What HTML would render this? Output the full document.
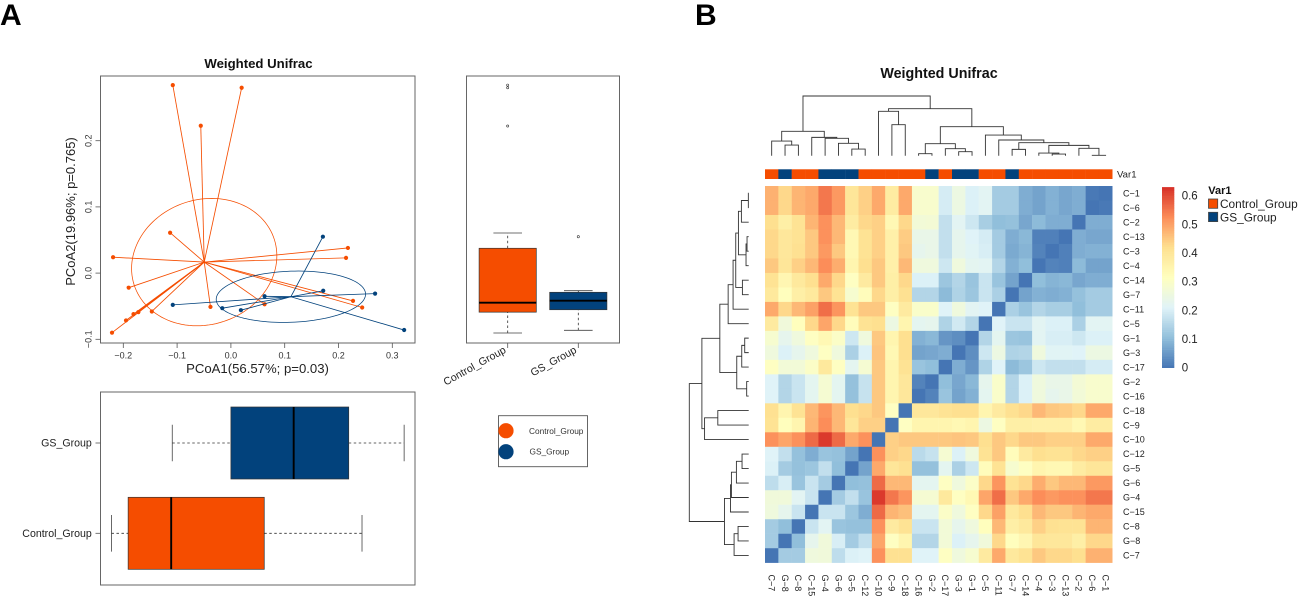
<!DOCTYPE html>
<html>
<head>
<meta charset="utf-8">
<title>Weighted Unifrac</title>
<style>
html,body{margin:0;padding:0;background:#fff;}
svg{display:block;font-family:"Liberation Sans",Arial,sans-serif;}
</style>
</head>
<body>
<svg id="figure" xmlns="http://www.w3.org/2000/svg" width="1299" height="597" viewBox="0 0 1299 597">
  <rect x="0" y="0" width="1299" height="597" fill="#fff"/>
  <text x="0" y="25" font-size="30" font-weight="bold" fill="#000">A</text>
  <text x="695" y="25" font-size="30" font-weight="bold" fill="#000">B</text>

  <text x="258.5" y="68" font-size="13.2" font-weight="bold" text-anchor="middle" fill="#111">Weighted Unifrac</text>
  <rect x="100.5" y="76" width="314.5" height="267" fill="none" stroke="#666" stroke-width="1"/>
  <text x="257.5" y="373" font-size="13.15" text-anchor="middle" fill="#222">PCoA1(56.57%; p=0.03)</text>
  <text transform="translate(75,211.5) rotate(-90)" font-size="13" text-anchor="middle" fill="#222">PCoA2(19.96%; p=0.765)</text>
  <g id="pcoa"></g>

  <rect x="466.5" y="76" width="153" height="267" fill="none" stroke="#666" stroke-width="1"/>
  <g id="boxV"></g>

  <rect x="100.5" y="392" width="314.5" height="193" fill="none" stroke="#666" stroke-width="1"/>
  <g id="boxH"></g>

  <g>
    <rect x="498.5" y="415.7" width="89" height="51" fill="#fff" stroke="#555" stroke-width="0.9"/>
    <circle cx="506" cy="430.7" r="7.6" fill="#F54D00"/>
    <circle cx="506" cy="451.7" r="7.6" fill="#02427C"/>
    <text x="529" y="433.8" font-size="8.3" fill="#333">Control_Group</text>
    <text x="529.5" y="454.5" font-size="8.3" fill="#333">GS_Group</text>
  </g>

  <text x="939" y="78" font-size="14.3" font-weight="bold" text-anchor="middle" fill="#111">Weighted Unifrac</text>
  <g id="topTree"></g>
  <g id="leftTree"></g>
  <g id="annot"></g>
  <text x="1117" y="177.5" font-size="9.6" font-weight="normal" fill="#222">Var1</text>
  <g id="heat"></g>
  <g id="rowLabels"></g>
  <g id="colLabels"></g>
  <g id="colorbar"></g>

  <g>
    <text x="1208.3" y="194" font-size="11" font-weight="bold" fill="#111">Var1</text>
    <rect x="1208.5" y="199" width="9.2" height="9.3" fill="#F54D00" stroke="#444" stroke-width="0.8"/>
    <rect x="1208.5" y="212.3" width="9.2" height="9.3" fill="#02427C" stroke="#444" stroke-width="0.8"/>
    <text x="1220" y="208" font-size="11.85" fill="#222">Control_Group</text>
    <text x="1220" y="221.3" font-size="11.85" fill="#222">GS_Group</text>
  </g>
</svg>
<script>
// ---- PCoA data ----
const controlPc1 = [-0.108,0.020,-0.056,-0.113,-0.219,0.2175,0.214,-0.190,0.227,0.244,0.0626,-0.038,-0.147,-0.172,-0.181,-0.195,-0.221];
const controlPc2 = [0.284,0.280,0.2226,0.061,0.024,0.038,0.023,-0.022,-0.042,-0.052,-0.047,-0.051,-0.058,-0.059,-0.062,-0.0715,-0.090];
const gsPc1 = [0.171,0.1716,0.268,0.322,0.0626,-0.108,-0.016,0.0186];
const gsPc2 = [0.055,-0.0267,-0.031,-0.086,-0.035,-0.048,-0.053,-0.056];
const controlCentroid = [-0.0496,0.0166];
const gsCentroid = [0.1115,-0.0357];
const controlEllipse = [0.135,0.0962,0.1];
const gsEllipse = [0.1388,0.0388,0.1];
const xTicks = [-0.2,-0.1,0,0.1,0.2,0.3];
const yTicks = [-0.1,0,0.1,0.2];
const tickLabelsX = ['−0.2','−0.1','0.0','0.1','0.2','0.3'];
const tickLabelsY = ['−0.1','0.0','0.1','0.2'];
// ---- Boxplot summaries: min, q1, median, q3, max ----
const groupNames = ['Control_Group','GS_Group'];
const controlPc1Box = [-0.222,-0.191,-0.111,0.062,0.2437];
const gsPc1Box = [-0.109,0,0.1167,0.219,0.322];
const controlPc2Box = [-0.0905,-0.059,-0.0447,0.0375,0.0606];
const gsPc2Box = [-0.0864,-0.0553,-0.0417,-0.029,-0.0266];
const controlPc2Outliers = [0.284,0.280,0.2222];
const gsPc2Outliers = [0.055];
// ---- Heatmap data ----
const rowNames = ['C-1','C-6','C-2','C-13','C-3','C-4','C-14','G-7','C-11','C-5','G-1','G-3','C-17','G-2','C-16','C-18','C-9','C-10','C-12','G-5','G-6','G-4','C-15','C-8','G-8','C-7'];
const colNames = ['C-7','G-8','C-8','C-15','G-4','G-6','G-5','C-12','C-10','C-9','C-18','C-16','G-2','C-17','G-3','G-1','C-5','C-11','G-7','C-14','C-4','C-3','C-13','C-2','C-6','C-1'];
const distanceMatrix = [
[.48,.43,.475,.49,.55,.51,.40,.44,.49,.38,.49,.29,.29,.195,.25,.205,.22,.13,.13,.08,.065,.085,.07,.08,.005,0],
[.48,.43,.475,.49,.55,.51,.40,.44,.49,.38,.49,.29,.29,.195,.25,.205,.22,.13,.13,.08,.065,.085,.07,.08,0,.005],
[.42,.37,.41,.475,.52,.47,.38,.43,.44,.34,.43,.27,.275,.17,.22,.185,.135,.105,.11,.07,.10,.08,.08,0,.08,.08],
[.43,.395,.41,.45,.52,.47,.34,.41,.44,.365,.445,.24,.24,.17,.23,.21,.195,.13,.08,.095,.015,.015,0,.08,.07,.07],
[.43,.395,.415,.45,.51,.45,.34,.41,.44,.365,.45,.23,.24,.17,.23,.215,.20,.13,.075,.09,.02,0,.015,.08,.085,.085],
[.45,.40,.44,.47,.525,.485,.35,.42,.45,.365,.47,.26,.26,.185,.26,.225,.22,.15,.085,.105,0,.02,.015,.10,.065,.065],
[.41,.345,.39,.42,.49,.43,.31,.385,.45,.37,.43,.205,.205,.12,.15,.115,.18,.115,.065,0,.105,.09,.095,.07,.08,.08],
[.39,.32,.37,.39,.45,.41,.285,.325,.43,.37,.415,.15,.15,.10,.145,.12,.18,.14,0,.065,.085,.08,.085,.11,.13,.13],
[.49,.43,.47,.50,.56,.515,.41,.45,.45,.31,.385,.295,.295,.21,.26,.22,.21,0,.14,.115,.15,.135,.135,.105,.13,.13],
[.385,.265,.32,.43,.495,.43,.325,.41,.42,.25,.35,.225,.23,.145,.19,.15,0,.21,.18,.18,.22,.205,.205,.14,.22,.22],
[.285,.23,.26,.31,.34,.30,.185,.26,.45,.35,.42,.085,.095,.045,.035,0,.15,.225,.12,.115,.22,.20,.20,.185,.205,.205],
[.26,.205,.23,.26,.31,.26,.14,.205,.455,.34,.42,.065,.07,.08,0,.035,.185,.25,.145,.15,.26,.215,.215,.21,.25,.25],
[.31,.27,.27,.30,.39,.31,.225,.28,.45,.35,.41,.115,.105,0,.08,.045,.145,.21,.10,.12,.185,.17,.17,.17,.195,.195],
[.21,.15,.18,.225,.28,.225,.11,.175,.45,.35,.395,.02,0,.105,.07,.095,.23,.295,.15,.205,.26,.24,.24,.275,.29,.29],
[.21,.15,.18,.225,.28,.225,.11,.175,.45,.35,.395,0,.02,.115,.065,.085,.225,.295,.15,.205,.26,.23,.24,.27,.29,.29],
[.415,.35,.41,.47,.515,.47,.42,.43,.45,.31,0,.395,.395,.41,.42,.42,.35,.385,.415,.43,.47,.45,.445,.43,.49,.49],
[.41,.32,.35,.475,.525,.47,.40,.44,.44,0,.31,.35,.35,.35,.34,.35,.25,.31,.37,.37,.365,.365,.365,.34,.38,.38],
[.52,.495,.52,.565,.62,.565,.49,.52,0,.44,.45,.45,.45,.45,.455,.45,.42,.45,.43,.45,.45,.44,.44,.44,.49,.49],
[.21,.17,.11,.08,.115,.11,.065,0,.52,.44,.43,.16,.175,.28,.205,.26,.41,.45,.325,.385,.42,.41,.41,.43,.44,.44],
[.205,.13,.11,.12,.17,.105,0,.065,.49,.40,.415,.11,.11,.225,.14,.185,.325,.41,.285,.31,.35,.34,.34,.38,.40,.40],
[.165,.20,.115,.18,.13,0,.105,.11,.565,.47,.47,.225,.225,.31,.26,.30,.43,.515,.41,.43,.485,.45,.47,.47,.51,.51],
[.265,.265,.22,.18,0,.13,.17,.115,.62,.55,.515,.28,.28,.39,.31,.34,.495,.56,.45,.49,.525,.51,.52,.52,.55,.55],
[.26,.23,.18,0,.18,.18,.12,.08,.565,.475,.46,.225,.225,.30,.26,.31,.43,.50,.39,.42,.47,.45,.45,.475,.49,.49],
[.13,.105,0,.18,.22,.115,.11,.11,.52,.385,.41,.18,.18,.27,.23,.26,.32,.47,.37,.39,.44,.415,.41,.41,.475,.475],
[.13,0,.105,.23,.265,.20,.13,.17,.495,.31,.35,.15,.15,.27,.205,.23,.265,.43,.32,.345,.40,.395,.395,.37,.43,.43],
[0,.13,.13,.26,.265,.165,.205,.21,.52,.415,.415,.21,.21,.31,.26,.285,.385,.49,.39,.41,.45,.43,.43,.42,.48,.48]
];
const legendTicks = [0,0.1,0.2,0.3,0.4,0.5,0.6];
const legendTickLabels = ['0','0.1','0.2','0.3','0.4','0.5','0.6'];
// Clustering: [left, right, height]. Negative = leaf (1-based column), positive = earlier merge (1-based).
const treeMerges = [
[-2,-3,.179],[-1,1,.246],[-7,-8,.112],[-6,3,.207],[-5,4,.291],[-4,5,.307],[2,6,.408],
[-10,-11,.52],[-9,8,.743],[-12,-13,.034],[-15,-16,.067],[-14,11,.117],[10,12,.201],
[-19,-20,.106],[-22,-23,.028],[-21,15,.045],[-25,-26,.006],[-24,17,.123],[16,18,.173],
[14,19,.218],[-18,20,.263],[-17,21,.346],[13,22,.486],[9,23,.788],[7,24,1]
];

const ORANGE = '#F54D00', BLUE = '#02427C';
const SVGNS = 'http://www.w3.org/2000/svg';
function add(parent, tag, attrs, text) {
  const n = document.createElementNS(SVGNS, tag);
  for (const k in attrs) n.setAttribute(k, attrs[k]);
  if (text !== undefined) n.textContent = text;
  parent.appendChild(n);
  return n;
}
const byId = id => document.getElementById(id);

// Axis functions
const xPc = v => 230.9 + 538 * v;
const yPc = v => 273.1 - 662 * v;
const colX = j => 765 + (1112.3 - 765) / colNames.length * j;
const rowY = i => 186 + (562.7 - 186) / rowNames.length * i;
const colW = (1112.3 - 765) / colNames.length;
const rowH = (562.7 - 186) / rowNames.length;
const COLOR_MAX = 0.63;
const colorStops = ['#4575B4','#91BFDB','#E0F3F8','#FFFFBF','#FEE090','#FC8D59','#D73027'];
function colorScale(v) {
  const t = Math.max(0, Math.min(1, v / COLOR_MAX)) * (colorStops.length - 1);
  const i = Math.min(colorStops.length - 2, Math.floor(t));
  const f = t - i;
  const a = colorStops[i], b = colorStops[i + 1];
  const ch = s => [1, 3, 5].map(p => parseInt(s.substr(p, 2), 16));
  const ca = ch(a), cb = ch(b);
  return 'rgb(' + ca.map((c, k) => Math.round(c + (cb[k] - c) * f)).join(',') + ')';
}

// ---- PCoA scatter ----
(function () {
  const g = byId('pcoa');
  xTicks.forEach((v, i) => {
    const tick = add(g, 'line', {x1: xPc(v), x2: xPc(v), y1: 343, y2: 348, stroke: '#555', 'stroke-width': 0.8});
    
    
    const label = add(g, 'text', {x: xPc(v), y: 358.5, 'font-size': 9, 'text-anchor': 'middle', fill: '#333'}, tickLabelsX[i]);
    
    
  });
  yTicks.forEach((v, i) => {
    const tick = add(g, 'line', {x1: 95.5, x2: 100.5, y1: yPc(v), y2: yPc(v), stroke: '#555', 'stroke-width': 0.8});
    
    
    const label = add(g, 'text', {transform: 'translate(91.5,' + yPc(v) + ') rotate(-90)', 'font-size': 9, 'text-anchor': 'middle', fill: '#333'}, tickLabelsY[i]);
    
    
  });
  function series(name, xs, ys, centroid, ell, color) {
    let d = '';
    for (let k = 0; k <= 120; k++) {
      const t = k / 120 * 2 * Math.PI;
      const ex = centroid[0] + ell[0] * Math.cos(t);
      const ey = centroid[1] + ell[1] * (ell[2] * Math.cos(t) + Math.sqrt(1 - ell[2] * ell[2]) * Math.sin(t));
      d += (k ? 'L' : 'M') + xPc(ex).toFixed(2) + ' ' + yPc(ey).toFixed(2);
    }
    const ellipse = add(g, 'path', {d: d + 'Z', fill: 'none', stroke: color, 'stroke-width': 0.75});
    
    
    xs.forEach((x, i) => {
      const spoke = add(g, 'line', {x1: xPc(centroid[0]), y1: yPc(centroid[1]), x2: xPc(x), y2: yPc(ys[i]), stroke: color, 'stroke-width': 0.85});
      
      
      const pt = add(g, 'circle', {cx: xPc(x), cy: yPc(ys[i]), r: 2.1, fill: color});
      
      
    });
  }
  series('control', controlPc1, controlPc2, controlCentroid, controlEllipse, ORANGE);
  series('gs', gsPc1, gsPc2, gsCentroid, gsEllipse, BLUE);
})();

// ---- Vertical boxplot (PCoA2) ----
(function () {
  const g = byId('boxV');
  const centers = [507.7, 578.3];
  const halfBox = 28.6, halfCap = 14.3;
  const stats = [controlPc2Box, gsPc2Box];
  const outliers = [controlPc2Outliers, gsPc2Outliers];
  const colors = [ORANGE, BLUE];
  stats.forEach((s, i) => {
    const c = centers[i];
    const wh = add(g, 'path', {d: 'M' + c + ' ' + yPc(s[0]) + 'V' + yPc(s[1]) + 'M' + c + ' ' + yPc(s[3]) + 'V' + yPc(s[4]), stroke: '#333', 'stroke-width': 0.8, 'stroke-dasharray': '2.5 2.5', fill: 'none'});
    
    
    const caps = add(g, 'path', {d: 'M' + (c - halfCap) + ' ' + yPc(s[0]) + 'H' + (c + halfCap) + 'M' + (c - halfCap) + ' ' + yPc(s[4]) + 'H' + (c + halfCap), stroke: '#444', 'stroke-width': 0.8, fill: 'none'});
    
    
    const box = add(g, 'rect', {x: c - halfBox, y: yPc(s[3]), width: 2 * halfBox, height: yPc(s[1]) - yPc(s[3]), fill: colors[i], stroke: '#333', 'stroke-width': 0.7});
    
    
    const med = add(g, 'line', {x1: c - halfBox, x2: c + halfBox, y1: yPc(s[2]), y2: yPc(s[2]), stroke: '#000', 'stroke-width': 1.9});
    
    
    outliers[i].forEach(o => {
      const pt = add(g, 'circle', {cx: c, cy: yPc(o), r: 1.1, fill: 'none', stroke: '#333', 'stroke-width': 0.6});
      
      
    });
    const tick = add(g, 'line', {x1: c, x2: c, y1: 343, y2: 348, stroke: '#555', 'stroke-width': 0.8});
    
    
    const label = add(g, 'text', {transform: 'translate(' + (c - 1) + ',352) rotate(-29)', 'font-size': 10.6, 'text-anchor': 'end', fill: '#222'}, groupNames[i]);
    
    
  });
})();

// ---- Horizontal boxplot (PCoA1) ----
(function () {
  const g = byId('boxH');
  const centers = [533.3, 443];
  const halfBox = 36, halfCap = 18.3;
  const stats = [controlPc1Box, gsPc1Box];
  const colors = [ORANGE, BLUE];
  stats.forEach((s, i) => {
    const c = centers[i];
    const wh = add(g, 'path', {d: 'M' + xPc(s[0]) + ' ' + c + 'H' + xPc(s[1]) + 'M' + xPc(s[3]) + ' ' + c + 'H' + xPc(s[4]), stroke: '#333', 'stroke-width': 0.8, 'stroke-dasharray': '2.5 2.5', fill: 'none'});
    
    
    const caps = add(g, 'path', {d: 'M' + xPc(s[0]) + ' ' + (c - halfCap) + 'V' + (c + halfCap) + 'M' + xPc(s[4]) + ' ' + (c - halfCap) + 'V' + (c + halfCap), stroke: '#444', 'stroke-width': 0.8, fill: 'none'});
    
    
    const box = add(g, 'rect', {x: xPc(s[1]), y: c - halfBox, width: xPc(s[3]) - xPc(s[1]), height: 2 * halfBox, fill: colors[i], stroke: '#333', 'stroke-width': 0.7});
    
    
    const med = add(g, 'line', {x1: xPc(s[2]), x2: xPc(s[2]), y1: c - halfBox, y2: c + halfBox, stroke: '#000', 'stroke-width': 1.9});
    
    
    const tick = add(g, 'line', {x1: 95.5, x2: 100.5, y1: c, y2: c, stroke: '#555', 'stroke-width': 0.8});
    
    
    const label = add(g, 'text', {x: 91.8, y: c + 3.6, 'font-size': 10.6, 'text-anchor': 'end', fill: '#222'}, groupNames[i]);
    
    
  });
})();

// ---- Heatmap ----
(function () {
  const g = byId('heat');
  distanceMatrix.forEach((row, i) => {
    row.forEach((v, j) => {
      const cell = add(g, 'rect', {x: colX(j), y: rowY(i), width: colW + 0.2, height: rowH + 0.2, fill: colorScale(v)});
      
      
    });
  });
  const rl = byId('rowLabels');
  rowNames.forEach((name, i) => {
    const t = add(rl, 'text', {x: 1123, y: rowY(i) + rowH / 2 + 3.2, 'font-size': 9, fill: '#222'}, name.replace('-', '−'));
    
    
  });
  const cl = byId('colLabels');
  colNames.forEach((name, j) => {
    const t = add(cl, 'text', {transform: 'translate(' + (colX(j) + colW / 2 - 3.2) + ',574.5) rotate(90)', 'font-size': 9, fill: '#222'}, name.replace('-', '−'));
    
    
  });
  const an = byId('annot');
  colNames.forEach((name, j) => {
    const r = add(an, 'rect', {x: colX(j), y: 169.3, width: colW + 0.2, height: 9.7, fill: name.charAt(0) === 'C' ? ORANGE : BLUE});
    
    
  });
})();

// ---- Dendrograms (same tree on both margins) ----
(function () {
  const n = colNames.length;
  const posOf = [], hOf = [];
  function nodePos(id) { return id < 0 ? (-id - 1 + 0.5) : posOf[id - 1]; }
  function nodeH(id) { return id < 0 ? 0 : hOf[id - 1]; }
  treeMerges.forEach((m, k) => {
    posOf[k] = (nodePos(m[0]) + nodePos(m[1])) / 2;
    hOf[k] = m[2];
  });
  const topBase = 155.7, topLen = 59.7, leftBase = 748.7, leftLen = 59.4;
  const top = byId('topTree'), left = byId('leftTree');
  treeMerges.forEach(m => {
    const a = nodePos(m[0]), b = nodePos(m[1]);
    const ha = nodeH(m[0]), hb = nodeH(m[1]), h = m[2];
    const ax = 765 + colW * a, bx = 765 + colW * b;
    const d1 = 'M' + ax + ' ' + (topBase - topLen * ha) + 'V' + (topBase - topLen * h) + 'H' + bx + 'V' + (topBase - topLen * hb);
    const p1 = add(top, 'path', {d: d1, fill: 'none', stroke: '#333', 'stroke-width': 0.9});
    
    
    const ay = 186 + rowH * (n - a), by = 186 + rowH * (n - b);
    const d2 = 'M' + (leftBase - leftLen * ha) + ' ' + ay + 'H' + (leftBase - leftLen * h) + 'V' + by + 'H' + (leftBase - leftLen * hb);
    const p2 = add(left, 'path', {d: d2, fill: 'none', stroke: '#333', 'stroke-width': 0.9});
    
    
  });
})();

// ---- Colour bar ----
(function () {
  const g = byId('colorbar');
  const yBar = v => 367.7 - 286.67 * v;
  const steps = 100;
  for (let k = 0; k < steps; k++) {
    const lo = COLOR_MAX * k / steps, hi = COLOR_MAX * (k + 1) / steps;
    const r = add(g, 'rect', {x: 1162, y: yBar(hi), width: 12.3, height: yBar(lo) - yBar(hi) + 0.3, fill: colorScale((lo + hi) / 2)});
    
    
  }
  legendTicks.forEach((v, i) => {
    const t = add(g, 'text', {x: 1181.7, y: yBar(v) + 4, 'font-size': 11.5, fill: '#222'}, legendTickLabels[i]);
    
    
  });
})();
</script>
</body>
</html>
